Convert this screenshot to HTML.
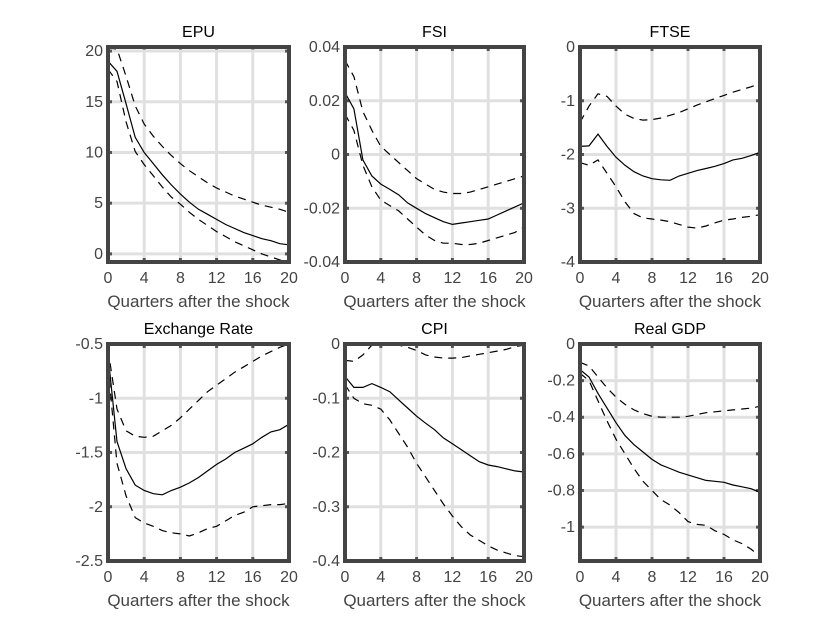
<!DOCTYPE html>
<html><head><meta charset="utf-8"><style>
html,body{margin:0;padding:0;background:#fff;}
svg{display:block;font-family:"Liberation Sans",sans-serif;}
</style></head><body>
<svg id="c" width="840" height="632" viewBox="0 0 840 632" xmlns="http://www.w3.org/2000/svg"></svg>
<script>
const quarters = [0,1,2,3,4,5,6,7,8,9,10,11,12,13,14,15,16,17,18,19,20];
const xTicks = [0,4,8,12,16,20];
const titles = ["EPU","FSI","FTSE","Exchange Rate","CPI","Real GDP"];
const epuMid = [19,18,14.8,11.5,10,8.9,7.8,6.8,5.9,5.1,4.4,3.9,3.4,2.9,2.5,2.1,1.8,1.5,1.3,1.0,0.9];
const epuUp = [20.3,20.2,17.5,14.6,12.8,11.6,10.6,9.7,8.9,8.2,7.6,7.0,6.5,6.1,5.7,5.4,5.1,4.8,4.6,4.4,4.1];
const epuLo = [18.2,17,13,10.1,8.8,7.7,6.6,5.6,4.9,4.1,3.4,2.8,2.2,1.7,1.2,0.8,0.4,0.0,-0.3,-0.6,-0.9];
const fsiMid = [0.023,0.017,-0.002,-0.008,-0.011,-0.013,-0.015,-0.018,-0.020,-0.022,-0.0235,-0.025,-0.026,-0.0255,-0.025,-0.0245,-0.024,-0.0225,-0.021,-0.0195,-0.018];
const fsiUp = [0.035,0.029,0.016,0.009,0.003,0.000,-0.003,-0.006,-0.009,-0.011,-0.013,-0.014,-0.0145,-0.0145,-0.014,-0.013,-0.012,-0.011,-0.010,-0.009,-0.008];
const fsiLo = [0.015,0.009,-0.004,-0.012,-0.017,-0.019,-0.021,-0.024,-0.027,-0.030,-0.032,-0.033,-0.033,-0.0335,-0.0335,-0.033,-0.032,-0.031,-0.030,-0.029,-0.027];
const ftseMid = [-1.85,-1.84,-1.62,-1.85,-2.05,-2.2,-2.32,-2.4,-2.45,-2.47,-2.48,-2.4,-2.35,-2.3,-2.26,-2.22,-2.17,-2.1,-2.07,-2.02,-1.96];
const ftseUp = [-1.4,-1.1,-0.87,-0.92,-1.1,-1.25,-1.33,-1.36,-1.35,-1.32,-1.27,-1.22,-1.15,-1.08,-1.02,-0.96,-0.9,-0.84,-0.79,-0.74,-0.68];
const ftseLo = [-2.15,-2.2,-2.1,-2.35,-2.6,-2.88,-3.1,-3.18,-3.2,-3.22,-3.25,-3.3,-3.35,-3.37,-3.33,-3.27,-3.22,-3.2,-3.17,-3.15,-3.12];
const fxMid = [-0.6,-1.4,-1.65,-1.8,-1.85,-1.88,-1.89,-1.85,-1.82,-1.78,-1.73,-1.67,-1.61,-1.56,-1.5,-1.46,-1.42,-1.36,-1.31,-1.29,-1.24];
const fxUp = [-0.55,-1.1,-1.3,-1.35,-1.36,-1.35,-1.3,-1.25,-1.18,-1.1,-1.02,-0.94,-0.88,-0.82,-0.76,-0.71,-0.66,-0.61,-0.57,-0.53,-0.5];
const fxLo = [-0.7,-1.6,-1.9,-2.1,-2.15,-2.18,-2.22,-2.24,-2.25,-2.27,-2.24,-2.2,-2.18,-2.13,-2.08,-2.05,-2.0,-1.99,-1.98,-1.98,-1.97];
const cpiMid = [-0.06,-0.08,-0.08,-0.073,-0.08,-0.088,-0.103,-0.118,-0.133,-0.146,-0.158,-0.173,-0.184,-0.195,-0.206,-0.217,-0.223,-0.226,-0.23,-0.234,-0.236];
const cpiUp = [-0.03,-0.032,-0.02,-0.002,0.0,0.0,-0.002,-0.006,-0.012,-0.02,-0.024,-0.026,-0.026,-0.025,-0.022,-0.019,-0.016,-0.013,-0.01,-0.005,-0.002];
const cpiLo = [-0.075,-0.1,-0.11,-0.113,-0.12,-0.14,-0.165,-0.19,-0.22,-0.245,-0.27,-0.295,-0.317,-0.337,-0.352,-0.362,-0.372,-0.38,-0.385,-0.39,-0.392];
const gdpMid = [-0.14,-0.18,-0.27,-0.35,-0.43,-0.5,-0.55,-0.59,-0.63,-0.66,-0.68,-0.70,-0.715,-0.73,-0.745,-0.75,-0.755,-0.77,-0.78,-0.79,-0.81];
const gdpUp = [-0.1,-0.12,-0.18,-0.24,-0.29,-0.33,-0.36,-0.38,-0.395,-0.4,-0.4,-0.4,-0.395,-0.385,-0.375,-0.37,-0.365,-0.36,-0.355,-0.35,-0.34];
const gdpLo = [-0.16,-0.2,-0.31,-0.42,-0.52,-0.6,-0.68,-0.75,-0.8,-0.85,-0.88,-0.92,-0.97,-0.985,-0.99,-1.02,-1.04,-1.07,-1.09,-1.12,-1.16];
const yTicks = [[0,5,10,15,20],[-0.04,-0.02,0,0.02,0.04],[-4,-3,-2,-1,0],[-2.5,-2,-1.5,-1,-0.5],[-0.4,-0.3,-0.2,-0.1,0],[-1,-0.8,-0.6,-0.4,-0.2,0]];
const yTickLabels = [["0","5","10","15","20"],["-0.04","-0.02","0","0.02","0.04"],["-4","-3","-2","-1","0"],["-2.5","-2","-1.5","-1","-0.5"],["-0.4","-0.3","-0.2","-0.1","0"],["-1","-0.8","-0.6","-0.4","-0.2","0"]];
const yLims = [[-0.8,20.4],[-0.04,0.04],[-4,0],[-2.5,-0.5],[-0.4,0],[-1.185,0]];
const mids = [epuMid,fsiMid,ftseMid,fxMid,cpiMid,gdpMid];
const ups = [epuUp,fsiUp,ftseUp,fxUp,cpiUp,gdpUp];
const los = [epuLo,fsiLo,ftseLo,fxLo,cpiLo,gdpLo];

const NS="http://www.w3.org/2000/svg";
const svg=document.getElementById('c');
function mk(tag,attrs,parent){const e=document.createElementNS(NS,tag);for(const k in attrs)e.setAttribute(k,attrs[k]);(parent||svg).appendChild(e);return e;}
const colX=[[108,289],[345,524],[580,760]];
const rowY=[[47,262],[344,561]];
const slugs=["epu","fsi","ftse","exchange-rate","cpi","real-gdp"];
for(let p=0;p<6;p++){
  const [x0,x1]=colX[p%3],[y0,y1]=rowY[Math.floor(p/3)];
  const [lo,hi]=yLims[p];
  const sx=v=>x0+(v-0)/(20-0)*(x1-x0);
  const sy=v=>y1-(v-lo)/(hi-lo)*(y1-y0);
  const g=mk('g',{});
  
  
  const cp=mk('clipPath',{id:'cp'+p},g);
  mk('rect',{x:x0,y:y0,width:x1-x0,height:y1-y0},cp);
  xTicks.forEach(t=>{const l=mk('line',{x1:sx(t),x2:sx(t),y1:y0,y2:y1,stroke:'#e0e0e0','stroke-width':3},g);
    
    mk('line',{x1:sx(t),x2:sx(t),y1:y0,y2:y0+4,stroke:'#555','stroke-width':3},g);
    mk('line',{x1:sx(t),x2:sx(t),y1:y1,y2:y1-4,stroke:'#555','stroke-width':3},g);
    const tx=mk('text',{x:sx(t),y:y1+21,'text-anchor':'middle','font-size':16,fill:'#444'},g);tx.textContent=t;
    
  });
  yTicks[p].forEach((t,i)=>{const l=mk('line',{x1:x0,x2:x1,y1:sy(t),y2:sy(t),stroke:'#e0e0e0','stroke-width':3},g);
    
    mk('line',{x1:x0,x2:x0+4,y1:sy(t),y2:sy(t),stroke:'#555','stroke-width':3},g);
    mk('line',{x1:x1,x2:x1-4,y1:sy(t),y2:sy(t),stroke:'#555','stroke-width':3},g);
    const tx=mk('text',{x:x0-5,y:sy(t)+5,'text-anchor':'end','font-size':16,fill:'#444'},g);tx.textContent=yTickLabels[p][i];
    
  });
  const series=[[ups[p],'8,6','upper-band'],[los[p],'8,6','lower-band'],[mids[p],null,'median-response']];
  series.forEach(([arr,dash,nm])=>{
    const d=arr.map((v,i)=>(i?'L':'M')+sx(quarters[i]).toFixed(1)+','+sy(v).toFixed(1)).join('');
    const a={d:d,fill:'none',stroke:'#000','stroke-width':1.2,'clip-path':'url(#cp'+p+')'};
    if(dash)a['stroke-dasharray']=dash;
    const path=mk('path',a,g);
    
    
  });
  const fr=mk('rect',{x:x0,y:y0,width:x1-x0,height:y1-y0,fill:'none',stroke:'#444','stroke-width':4},g);
  
  const ti=mk('text',{x:(x0+x1)/2,y:y0-10,'text-anchor':'middle','font-size':16,fill:'#000'},g);ti.textContent=titles[p];
  
  const xl=mk('text',{x:(x0+x1)/2,y:y1+45,'text-anchor':'middle','font-size':17,fill:'#444'},g);xl.textContent='Quarters after the shock';
  
}
</script>
</body></html>
